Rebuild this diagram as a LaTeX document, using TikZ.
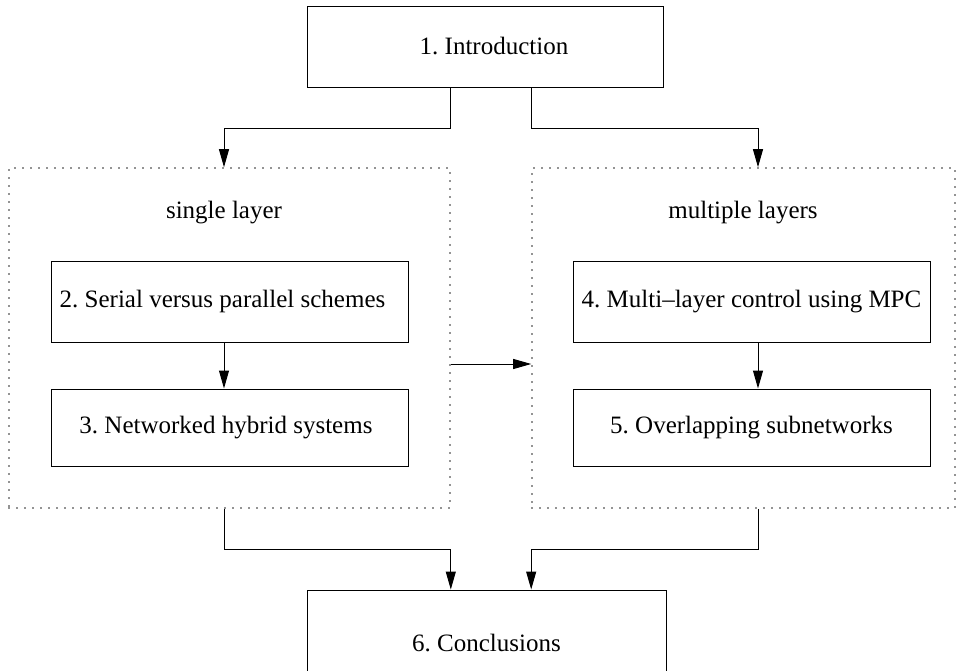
\documentclass[tikz,border=0pt]{standalone}
\usepackage{fontspec}
\setmainfont{Liberation Serif}
\usetikzlibrary{arrows.meta}
\tikzset{
  chapter/.style={draw, line width=1pt, inner sep=0pt, minimum width=357pt, minimum height=81pt},
  group/.style={draw=black!85, line width=1.6pt, line cap=round, dash pattern=on 0pt off 8pt, inner sep=0pt},
  arr/.style={line width=1pt, -{Triangle[length=18pt,width=10pt]}},
}
\begin{document}
\frenchspacing
\begin{tikzpicture}[x=1pt, y=-1pt, font=\fontsize{25}{30}\selectfont]
  \clip (0,0) rectangle (964,670);
  % groups
  \node[group, minimum width=441pt, minimum height=340pt] (single) at (229.5,338) {};
  \node[group, minimum width=423pt, minimum height=340pt] (multi) at (743.5,338) {};
  \node (singlelbl) at (224,213) {single layer};
  \node (multilbl) at (743,213) {multiple layers};
  % chapters
  \node[chapter, minimum width=356pt, label={[xshift=9pt]center:1. Introduction}] (intro) at (485,46.5) {};
  \node[chapter, label={[xshift=-7pt]center:2. Serial versus parallel schemes}] (serial) at (229.5,301.5) {};
  \node[chapter, minimum height=77pt, label={[xshift=-3.5pt]center:3. Networked hybrid systems}] (hybrid) at (229.5,427.5) {};
  \node[chapter] (mpc) at (751.5,301.5) {4. Multi\textendash layer control using MPC};
  \node[chapter, minimum height=77pt] (overlap) at (751.5,427.5) {5. Overlapping subnetworks};
  \node[chapter, minimum width=359pt, minimum height=106pt] (concl) at (486.5,643) {6. Conclusions};
  % connectors
  \coordinate (lx) at (224,0);
  \coordinate (rx) at (758,0);
  \coordinate (mid) at (0,364);
  \draw[arr] (intro.south -| single.east) -- ++(0,41) -| (single.north -| lx);
  \draw[arr] (intro.south -| multi.west) -- ++(0,41) -| (multi.north -| rx);
  \draw[arr] (serial.south -| lx) -- (hybrid.north -| lx);
  \draw[arr] (mpc.south -| rx) -- (overlap.north -| rx);
  \draw[arr] (single.east |- mid) -- (multi.west |- mid);
  \draw[arr] (single.south -| lx) -- ++(0,41) -| (concl.north -| single.east);
  \draw[arr] (multi.south -| rx) -- ++(0,41) -| (concl.north -| multi.west);
\end{tikzpicture}
\end{document}
